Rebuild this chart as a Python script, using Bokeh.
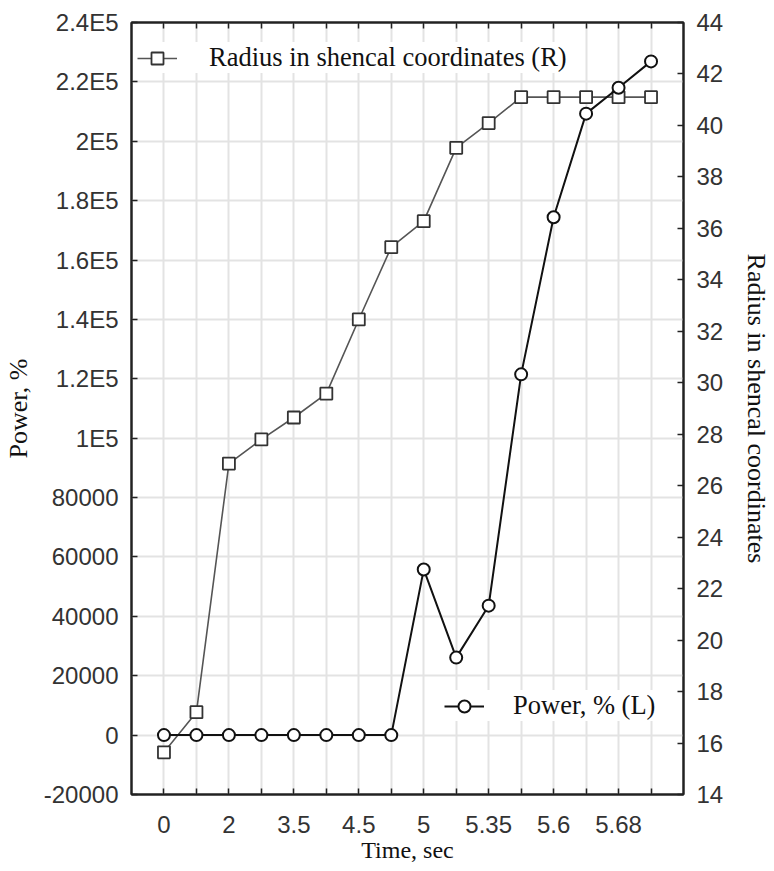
from bokeh.plotting import figure
from bokeh.models import (Range1d, LinearAxis, FixedTicker, Legend, LegendItem)
from bokeh.embed import file_html
from bokeh.resources import INLINE

# ---- data ----
point_index = [0, 1, 2, 3, 4, 5, 6, 7, 8, 9, 10, 11, 12, 13, 14, 15]
time_labels = {0: "0", 2: "2", 4: "3.5", 6: "4.5", 8: "5", 10: "5.35", 12: "5.6", 14: "5.68"}
power_L = [0, 0, 0, 0, 0, 0, 0, 0, 55800, 26100, 43600, 121500, 174400, 209300, 218000, 226900]
radius_R = [15.64, 17.2, 26.86, 27.8, 28.65, 29.58, 32.46, 35.27, 36.28, 39.13, 40.09,
            41.1, 41.1, 41.1, 41.1, 41.1]
left_ticks = [-20000, 0, 20000, 40000, 60000, 80000, 100000, 120000, 140000, 160000,
              180000, 200000, 220000, 240000]
left_tick_text = ["-20000", "0", "20000", "40000", "60000", "80000", "1E5", "1.2E5",
                  "1.4E5", "1.6E5", "1.8E5", "2E5", "2.2E5", "2.4E5"]
right_ticks = [14, 16, 18, 20, 22, 24, 26, 28, 30, 32, 34, 36, 38, 40, 42, 44]

SANS = "Liberation Sans"
SERIF = "Liberation Serif"
TICK_SIZE = "24px"

p = figure(width=774, height=871, x_range=Range1d(-1, 16), y_range=Range1d(-20000, 240000),
           output_backend="svg", toolbar_location=None,
           min_border_left=130, min_border_right=87, min_border_top=22, min_border_bottom=77)
p.extra_y_ranges = {"R": Range1d(14, 44)}

p.background_fill_color = "white"
p.border_fill_color = "white"
p.outline_line_color = "#222222"
p.outline_line_width = 2

def style_axis(ax, title_size="24px"):
    ax.axis_line_color = "#222222"
    ax.axis_line_width = 2
    ax.major_tick_in = 6
    ax.major_tick_out = 0
    ax.minor_tick_line_color = None
    ax.major_tick_line_color = "#222222"
    ax.major_tick_line_width = 1.5
    ax.major_label_text_font = SANS
    ax.major_label_text_font_size = TICK_SIZE
    ax.major_label_text_color = "#333333"
    ax.axis_label_text_font = SERIF
    ax.axis_label_text_font_size = title_size
    ax.axis_label_text_font_style = "normal"
    ax.axis_label_text_color = "#111111"

# bottom axis
xa = p.xaxis[0]
style_axis(xa, "24px")
xa.ticker = FixedTicker(ticks=point_index)
xa.major_label_overrides = {i: time_labels.get(i, "") for i in point_index}
xa.axis_label = "Time, sec"
xa.major_label_standoff = 21
xa.axis_label_standoff = 1

# left axis
ya = p.yaxis[0]
style_axis(ya, "26px")
ya.ticker = FixedTicker(ticks=left_ticks)
ya.major_label_overrides = {t: s for t, s in zip(left_ticks, left_tick_text)}
ya.axis_label = "Power, %"
ya.major_label_standoff = 13
ya.axis_label_standoff = 8

# right axis
ra = LinearAxis(y_range_name="R", ticker=FixedTicker(ticks=right_ticks),
                axis_label="Radius in shencal coordinates")
style_axis(ra, "26px")
ra.major_label_standoff = 13
ra.axis_label_standoff = 16
p.add_layout(ra, "right")

# top axis (ticks only)
ta = LinearAxis(ticker=FixedTicker(ticks=point_index))
style_axis(ta)
ta.major_label_text_font_size = "0px"
ta.major_label_standoff = 0
p.add_layout(ta, "above")

# grid
p.xgrid.ticker = FixedTicker(ticks=point_index)
p.ygrid.ticker = FixedTicker(ticks=left_ticks)
for g in (p.xgrid, p.ygrid):
    g.grid_line_color = "#e3e3e3"
    g.grid_line_width = 2

# series
lr = p.line(point_index, radius_R, y_range_name="R", line_color="#555555", line_width=1.6)
sr = p.scatter(point_index, radius_R, y_range_name="R", marker="square", size=12,
               fill_color="white", line_color="#333333", line_width=1.8)
ll = p.line(point_index, power_L, line_color="#111111", line_width=2)
sl = p.scatter(point_index, power_L, marker="circle", size=12,
               fill_color="white", line_color="#111111", line_width=2)

def make_legend(label, renderers, loc, standoff):
    lg = Legend(items=[LegendItem(label=label, renderers=renderers)], location=loc,
                orientation="vertical")
    lg.background_fill_color = "white"
    lg.background_fill_alpha = 1
    lg.border_line_color = None
    lg.label_text_font = SERIF
    lg.label_text_font_size = "26.5px"
    lg.label_text_color = "#111111"
    lg.glyph_width = 40
    lg.glyph_height = 30
    lg.label_height = 30
    lg.label_standoff = standoff
    lg.padding = 4
    lg.margin = 0
    lg.spacing = 0
    return lg

leg1 = make_legend("Radius in shencal coordinates (R)", [lr, sr], (6, 721), 32)
leg2 = make_legend("Power, % (L)", [ll, sl], (313, 73), 29)
p.add_layout(leg1)
p.add_layout(leg2)

open("out.html", "w").write(file_html(p, INLINE))
